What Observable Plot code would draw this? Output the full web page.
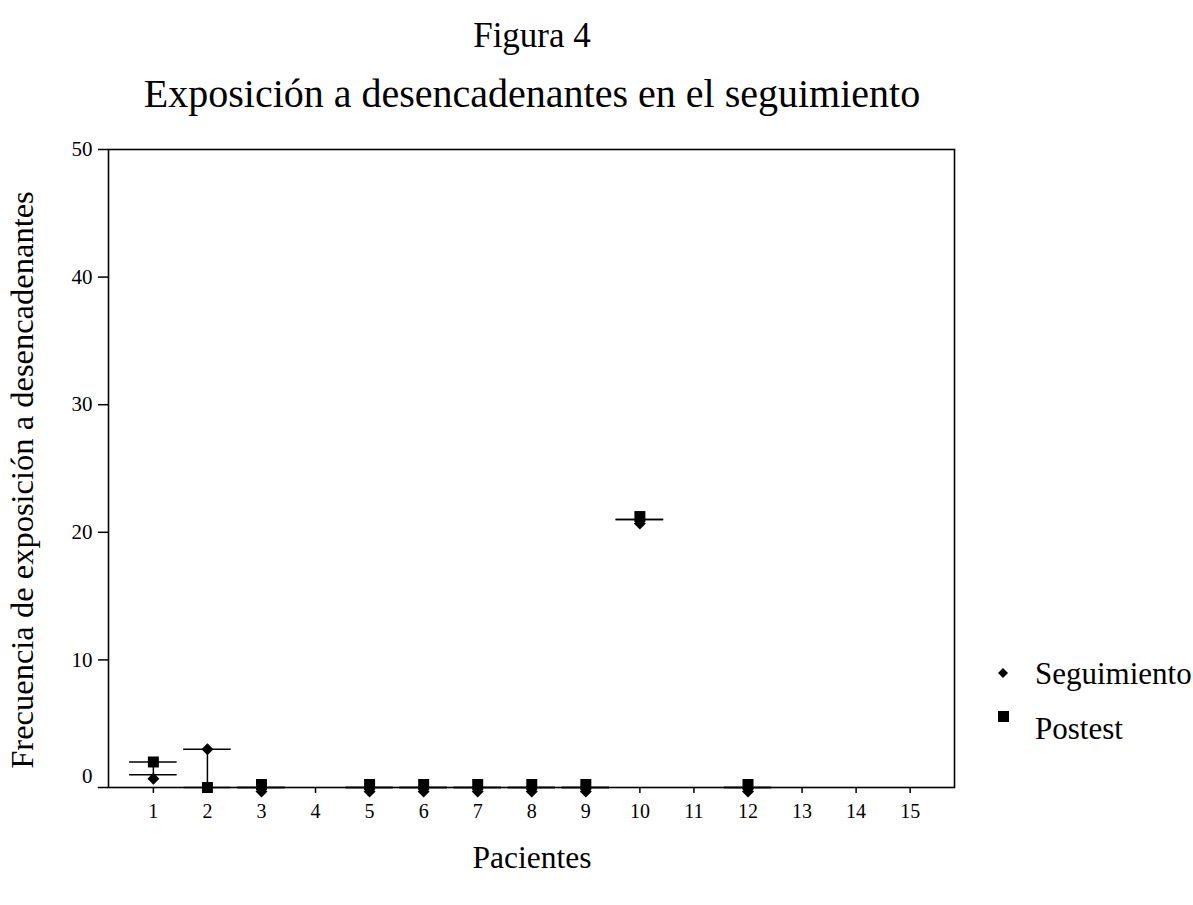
<!DOCTYPE html>
<html>
<head>
<meta charset="utf-8">
<script src="https://cdn.jsdelivr.net/npm/d3@7"></script>
<script src="https://cdn.jsdelivr.net/npm/@observablehq/plot@0.6"></script>
<style>
  html, body { margin: 0; padding: 0; background: #fff; }
  #wrap { position: relative; width: 1193px; height: 905px; font-family: "Liberation Serif", "Times New Roman", serif; color: #000; }
  #wrap svg { position: absolute; left: 0; top: 0; }
  .abs { position: absolute; white-space: nowrap; line-height: 1; }
</style>
</head>
<body>
<div id="wrap">
  <div class="abs" id="t1" style="left:0; width:1064px; text-align:center; top:18px; font-size:35px;">Figura 4</div>
  <div class="abs" id="t2" style="left:0; width:1064px; text-align:center; top:74px; font-size:40px;">Exposición a desencadenantes en el seguimiento</div>
  <div class="abs" id="xl" style="left:0; width:1064px; text-align:center; top:842px; font-size:31.5px;">Pacientes</div>
  <div class="abs" id="yl" style="left:22px; top:480px; font-size:32.5px; transform: translate(-50%,-50%) rotate(-90deg);">Frecuencia de exposición a desencadenantes</div>
  <div class="abs" style="left:995px; top:658px;">
    <svg width="16" height="16" style="position:absolute;left:0;top:7px"><path d="M8,3 L13,8 L8,13 L3,8 Z" fill="#000"/></svg>
    <span style="position:absolute; left:40px; top:0; font-size:31px;">Seguimiento</span>
  </div>
  <div class="abs" style="left:995px; top:704px;">
    <svg width="16" height="16" style="position:absolute;left:0;top:5px"><rect x="3" y="2" width="11" height="11" fill="#000"/></svg>
    <span style="position:absolute; left:40px; top:9px; font-size:31px;">Postest</span>
  </div>
</div>
<script>
// Patients on the x axis
const patients = [1, 2, 3, 4, 5, 6, 7, 8, 9, 10, 11, 12, 13, 14, 15];
// Exposure frequency at follow-up (Seguimiento) and post-test (Postest); null = no data
const seguimiento = [1, 3, 0, null, 0, 0, 0, 0, 0, 21, null, 0, null, null, null];
const postest     = [2, 0, 0, null, 0, 0, 0, 0, 0, 21, null, 0, null, null, null];
const yTicks = [0, 10, 20, 30, 40, 50];

const rows = patients.map((p, i) => ({p, seg: seguimiento[i], post: postest[i]}))
  .filter(d => d.seg != null && d.post != null);
const levels = rows.flatMap(d => [{p: d.p, v: d.seg}, {p: d.p, v: d.post}]);

const black = "#000";
const chart = Plot.plot({
  width: 1193,
  height: 905,
  marginTop: 149,
  marginBottom: 118,
  marginLeft: 108,
  marginRight: 239,
  style: {fontFamily: "Liberation Serif, Times New Roman, serif", fontSize: "20px", color: black, background: "transparent", overflow: "visible"},
  x: {type: "linear", domain: [0.17, 15.82], axis: null},
  y: {domain: [0, 50], axis: null},
  marks: [
    Plot.axisX({ticks: patients, tickSize: 6, tickPadding: 10, tickFormat: d => String(d), fontSize: 20, strokeWidth: 1.5, label: null}),
    Plot.axisY({ticks: yTicks.filter(t => t > 0), tickSize: 10, tickPadding: 6, fontSize: 21, strokeWidth: 1.5, label: null}),
    Plot.ruleY([0], {x1: 0.17 - 0.19, x2: 0.17, strokeWidth: 1.5}),
    Plot.text([0], {y: d => d, text: d => String(d), frameAnchor: "left", textAnchor: "end", dx: -16, dy: -11, fontSize: 21}),
    Plot.frame({stroke: black, strokeWidth: 1.6}),
    // horizontal level lines for each patient
    Plot.ruleY(levels, {y: "v", x1: d => d.p - 0.44, x2: d => d.p + 0.44, stroke: black, strokeWidth: 1.6}),
    // connectors between the two measurements
    Plot.ruleX(rows.filter(d => d.seg !== d.post), {x: "p", y1: "seg", y2: "post", stroke: black, strokeWidth: 1.5}),
    // Postest squares
    Plot.dot(rows.filter(d => d.seg !== d.post), {x: "p", y: "post", symbol: "square", r: 6.2, fill: black, stroke: null}),
    Plot.dot(rows.filter(d => d.seg === d.post), {x: "p", y: "post", symbol: "square", r: 6.2, fill: black, stroke: null, dy: -3}),
    // Seguimiento diamonds
    Plot.dot(rows.filter(d => d.seg > d.post), {x: "p", y: "seg", symbol: "diamond2", r: 5.4, fill: black, stroke: null}),
    Plot.dot(rows.filter(d => d.seg <= d.post), {x: "p", y: "seg", symbol: "diamond2", r: 5.4, fill: black, stroke: null, dy: 4})
  ]
});
document.getElementById("wrap").prepend(chart);
</script>
</body>
</html>
